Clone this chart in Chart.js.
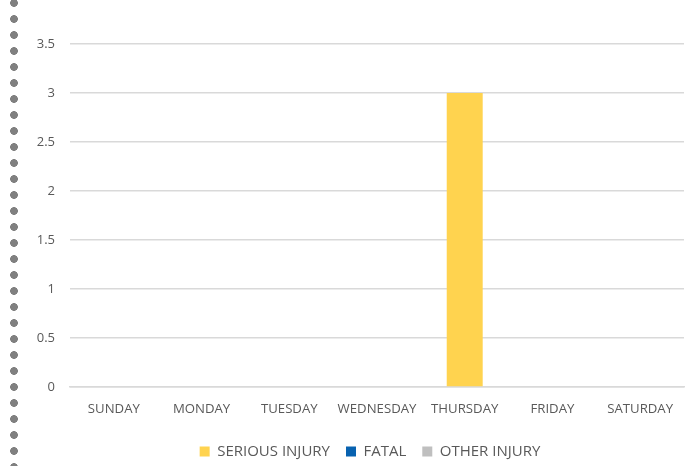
<!DOCTYPE html>
<html><head><meta charset="utf-8">
<script src="https://cdn.jsdelivr.net/npm/chart.js@4"></script>
<style>
html,body{margin:0;padding:0;background:#fff;}
#wrap{position:relative;width:691px;height:466px;overflow:hidden;}
#dots{position:absolute;left:10px;top:-1px;width:8px;height:467px;
background-image:radial-gradient(circle at 4px 4px,#808080 3.6px,transparent 4.1px);
background-size:8px 16px;background-repeat:repeat-y;}
canvas{position:absolute;left:0;top:0;}
</style></head>
<body><div id="wrap"><div id="dots"></div><canvas id="c" width="691" height="469"></canvas></div>
<script>
const categories=["SUNDAY","MONDAY","TUESDAY","WEDNESDAY","THURSDAY","FRIDAY","SATURDAY"];
const seriousInjury=[0,0,0,0,3,0,0];
const fatal=[0,0,0,0,0,0,0];
const otherInjury=[0,0,0,0,0,0,0];
const yTicks=[0,0.5,1,1.5,2,2.5,3,3.5];
const FONT="'Open Sans', sans-serif";
const ds=(label,data,color)=>({label,data,backgroundColor:color,borderWidth:0,barPercentage:0.41,categoryPercentage:1});
const shiftLegend={id:'shiftLegend',afterLayout(chart){const l=chart.legend;if(l){l.left+=28;l.right+=28;}}};
new Chart(document.getElementById('c'),{
type:'bar',
data:{labels:categories,datasets:[
ds("SERIOUS INJURY",seriousInjury,"#FFD34F"),
ds("FATAL",fatal,"#0862B0"),
ds("OTHER INJURY",otherInjury,"#BFBFBF")]},
plugins:[shiftLegend],
options:{responsive:false,animation:false,
layout:{padding:{top:44,right:7,left:0,bottom:0}},
plugins:{legend:{position:'bottom',labels:{boxWidth:10,boxHeight:10,color:'#595959',font:{family:FONT,size:15},padding:16}},tooltip:{enabled:false}},
scales:{
x:{stacked:true,grid:{display:false,drawTicks:false},border:{color:'#d9d9d9',width:1.5},ticks:{color:'#595959',font:{family:FONT,size:13.2},padding:14,maxRotation:0},
afterFit:s=>{s.height=41;}},
y:{stacked:true,min:0,max:3.5,afterBuildTicks:s=>{s.ticks=yTicks.map(v=>({value:v}));},
grid:{color:'#d9d9d9',lineWidth:1.5,drawTicks:false},border:{display:false},
ticks:{color:'#595959',font:{family:FONT,size:13},padding:15,callback:v=>String(v)},
afterFit:s=>{s.width=70;}}
}}});
</script></body></html>
